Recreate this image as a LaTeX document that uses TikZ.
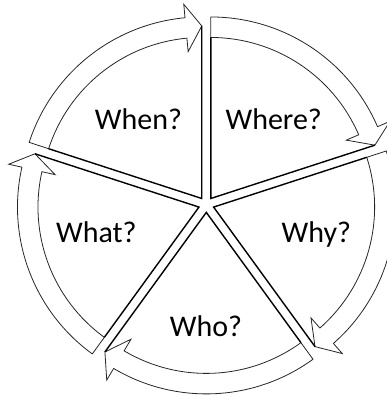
\documentclass[tikz,border=0pt]{standalone}
\usepackage{fontspec}
\setmainfont{Carlito}
\begin{document}
\begin{tikzpicture}[x=1pt,y=1pt,
  band/.style={draw=black!85, line width=0.8pt, line join=miter},
  edge/.style={draw=black, line width=1.4pt, line join=miter},
  lbl/.style={font=\fontsize{30}{36}\selectfont, anchor=base, inner sep=0pt}]
\clip (0,0) rectangle (387,-396);
\begin{scope}[shift={(206.3,-204.7)}]
\foreach \s/\n in {162/a,90/b,18/c,-54/d,-126/e}{
  \pgfmathsetmacro\e{\s-72}
  \pgfmathsetmacro\b{\s-36}
  \pgfmathsetmacro\h{\e+5.3}
  \begin{scope}[shift={(\b:7.7)}]
    \coordinate (c\n) at (0,0);
    \draw[band] (\s:161) -- (\s:181.5) arc[start angle=\s, end angle=\h, radius=181.5]
      -- (\h:195) -- (\e:172.5) -- (\h:147.5) -- (\h:161)
      arc[start angle=\h, end angle=\s, radius=161] -- cycle;
    \draw[edge] (\s:161) -- (c\n) -- (\e:172.5);
  \end{scope}
}
\end{scope}
\node[lbl] (when) at (138.5,-129.3) {When?};
\node[lbl] (where) at (273.7,-129.3) {Where?};
\node[lbl] (what) at (96.3,-242) {What?};
\node[lbl] (why) at (316.3,-242) {Why?};
\node[lbl] (who) at (206,-336) {Who?};
\end{tikzpicture}
\end{document}
